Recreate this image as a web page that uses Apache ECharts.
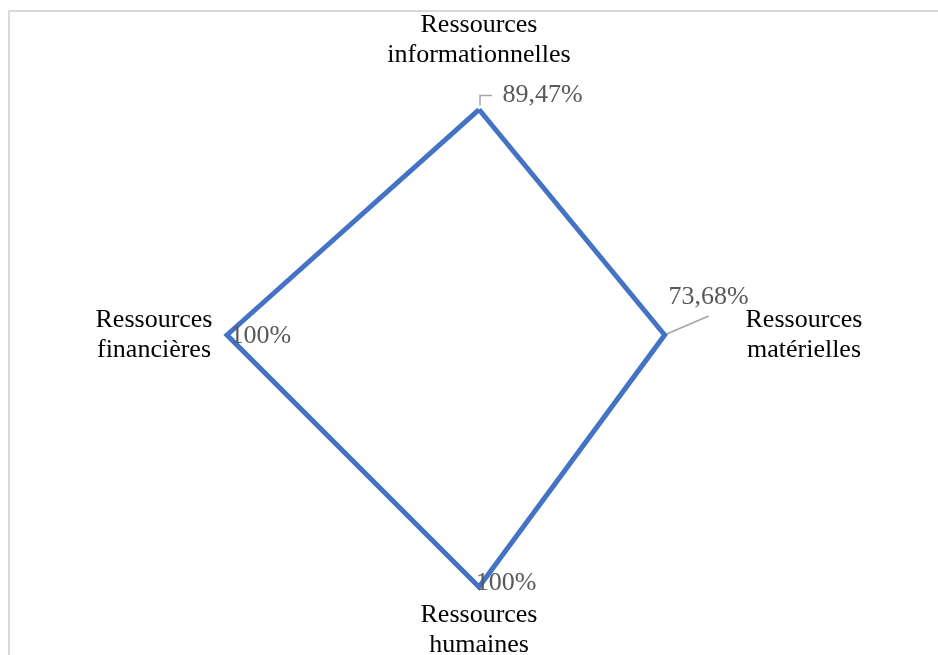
<!DOCTYPE html>
<html><head><meta charset="utf-8">
<script src="https://cdn.jsdelivr.net/npm/echarts@6/dist/echarts.min.js"></script>
<style>html,body{margin:0;padding:0;background:#fff}#c{width:938px;height:655px}</style>
</head><body><div id="c"></div>
<script>
// Data
const indicatorNames = ['Ressources\ninformationnelles', 'Ressources\nfinancières', 'Ressources\nhumaines', 'Ressources\nmatérielles'];
const values = [89.47, 100, 100, 73.68];
const axisMax = 100;

const FONT = '"Liberation Serif", "Times New Roman", serif';
function fmt(v) { return (v % 1 === 0 ? String(v) : v.toFixed(2).replace('.', ',')) + '%'; }

// per-vertex label placement (top, left, bottom, right)
const labelPlace = [
  {position: 'right', offset: [18, -14]},
  {position: 'right', offset: [-2, 1]},
  {position: 'inside', offset: [27, -4]},
  {position: 'inside', offset: [44, -38]}
];

const chart = echarts.init(document.getElementById('c'), null, {renderer: 'canvas'});

const series = [{
  type: 'radar',
  symbol: 'none',
  lineStyle: {color: '#4472C4', width: 5, join: 'miter'},
  itemStyle: {color: '#4472C4'},
  data: [{value: values}],
  silent: true,
  z: 2
}];
labelPlace.forEach((p, k) => {
  series.push({
    type: 'radar',
    symbol: 'circle',
    symbolSize: 1,
    itemStyle: {color: 'rgba(0,0,0,0)'},
    lineStyle: {opacity: 0, width: 0},
    silent: true,
    z: 3,
    data: [{value: values, label: {
      show: true,
      position: p.position,
      offset: p.offset,
      distance: 5,
      color: '#595959',
      fontFamily: FONT,
      fontSize: 26,
      formatter: (params) => params.dimensionIndex === k ? fmt(values[k]) : ''
    }}]
  });
});

const borderRect = {
  type: 'rect', silent: true,
  shape: {x: 9, y: 11, width: 940, height: 660},
  style: {fill: 'none', stroke: '#d9d9d9', lineWidth: 2}
};

chart.setOption({
  animation: false,
  backgroundColor: '#fff',
  radar: {
    center: [479, 335],
    radius: 252,
    startAngle: 90,
    shape: 'polygon',
    nameGap: 13,
    indicator: indicatorNames.map(n => ({name: n, min: 0, max: axisMax})),
    axisName: {
      color: '#000',
      fontFamily: FONT,
      fontSize: 26,
      lineHeight: 30,
      formatter: (name) => name.split('\n').map(s => '{c|' + s + '}').join('\n'),
      rich: {c: {fontFamily: FONT, fontSize: 26, lineHeight: 30, width: 120, align: 'center', color: '#000'}}
    },
    splitLine: {show: false},
    splitArea: {show: false},
    axisLine: {show: false},
    axisTick: {show: false},
    axisLabel: {show: false}
  },
  series: series,
  graphic: [borderRect]
});

// leader lines computed from the radar coordinate system
try {
  const radar = chart.getModel().getComponent('radar').coordinateSystem;
  const pTop = radar.dataToPoint(values[0], 0);
  const pRight = radar.dataToPoint(values[3], 3);
  chart.setOption({graphic: [borderRect, {
    type: 'polyline', silent: true, z: 1,
    shape: {points: [[pTop[0] + 1, pTop[1] - 4], [pTop[0] + 1, pTop[1] - 14], [pTop[0] + 13, pTop[1] - 14]]},
    style: {stroke: '#a6a6a6', lineWidth: 1.5, fill: 'none'}
  }, {
    type: 'polyline', silent: true, z: 1,
    shape: {points: [[pRight[0] + 2, pRight[1] - 1], [pRight[0] + 44, pRight[1] - 19]]},
    style: {stroke: '#a6a6a6', lineWidth: 1.5, fill: 'none'}
  }]});
} catch (e) {}
</script>
</body></html>
